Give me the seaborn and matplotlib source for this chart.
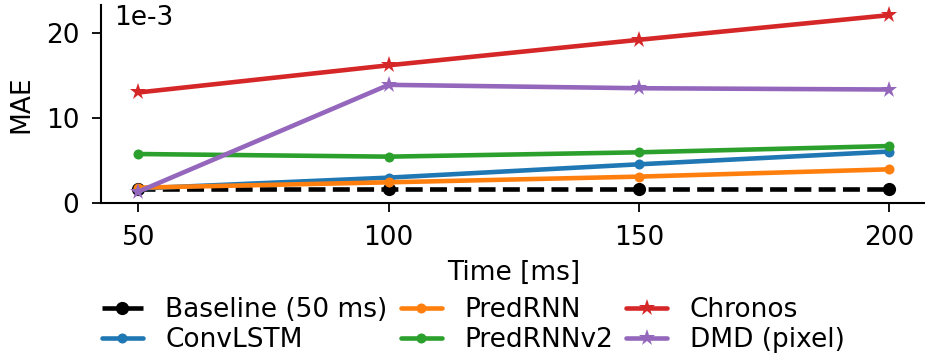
import numpy as np
import pandas as pd
import matplotlib
matplotlib.use("Agg")
import matplotlib.pyplot as plt
import seaborn as sns

time_ms = [50, 100, 150, 200]
baseline = [1.6, 1.6, 1.6, 1.6]
convlstm = [1.7, 2.98, 4.55, 6.05]
predrnn = [1.8, 2.43, 3.1, 3.96]
predrnnv2 = [5.76, 5.45, 5.96, 6.7]
chronos = [13.0, 16.2, 19.2, 22.1]
dmd = [1.33, 13.9, 13.5, 13.35]

series = [
    ("Baseline (50 ms)", baseline, "black", "o", "--"),
    ("ConvLSTM", convlstm, "#1f77b4", "o", "-"),
    ("PredRNN", predrnn, "#ff7f0e", "o", "-"),
    ("PredRNNv2", predrnnv2, "#2ca02c", "o", "-"),
    ("Chronos", chronos, "#d62728", "*", "-"),
    ("DMD (pixel)", dmd, "#9467bd", "*", "-"),
]

sns.set_style("ticks", {"text.color": "black", "axes.labelcolor": "black",
                        "xtick.color": "black", "ytick.color": "black",
                        "axes.edgecolor": "black"})
plt.rcParams['font.family'] = ['DejaVu Sans']
FS = 19
plt.rcParams['font.size'] = FS

fig = plt.figure(figsize=(9.25, 3.53), dpi=100)
ax = fig.add_axes([0.109, 0.425, 0.893, 0.561])

for name, vals, color, marker, ls in series:
    df = pd.DataFrame({"Time": time_ms, "MAE": vals})
    if marker == "*":
        ms = 12.5
    elif name.startswith("Baseline"):
        ms = 9.5
    else:
        ms = 7.2
    sns.lineplot(data=df, x="Time", y="MAE", ax=ax, color=color, marker=marker,
                 markersize=ms, markeredgewidth=0, linewidth=3.3, linestyle=ls,
                 label=name, zorder=3)

ax.set_ylim(0, 23.3)
ax.set_xticks(time_ms)
ax.set_yticks([0, 10, 20])
ax.tick_params(labelsize=FS, width=1.3, length=6.5, pad=9)
for s in ["left", "bottom"]:
    ax.spines[s].set_linewidth(1.5)
sns.despine(ax=ax)
ax.set_xlabel("Time [ms]", fontsize=FS, labelpad=7)
ax.set_ylabel("MAE", fontsize=FS, labelpad=8)
ax.text(0.016, 0.998, "1e-3", transform=ax.transAxes, ha="left", va="top", fontsize=FS)

handles, labels = ax.get_legend_handles_labels()
leg = ax.legend(handles, labels, ncol=3, loc="upper left",
                bbox_to_anchor=(102 / 925, 1 - 297 / 353), bbox_transform=fig.transFigure,
                frameon=False, fontsize=FS, handlelength=1.55, columnspacing=0.5,
                labelspacing=0.15, handletextpad=0.85, borderaxespad=0, borderpad=0)

fig.savefig("out.png", dpi=100)
